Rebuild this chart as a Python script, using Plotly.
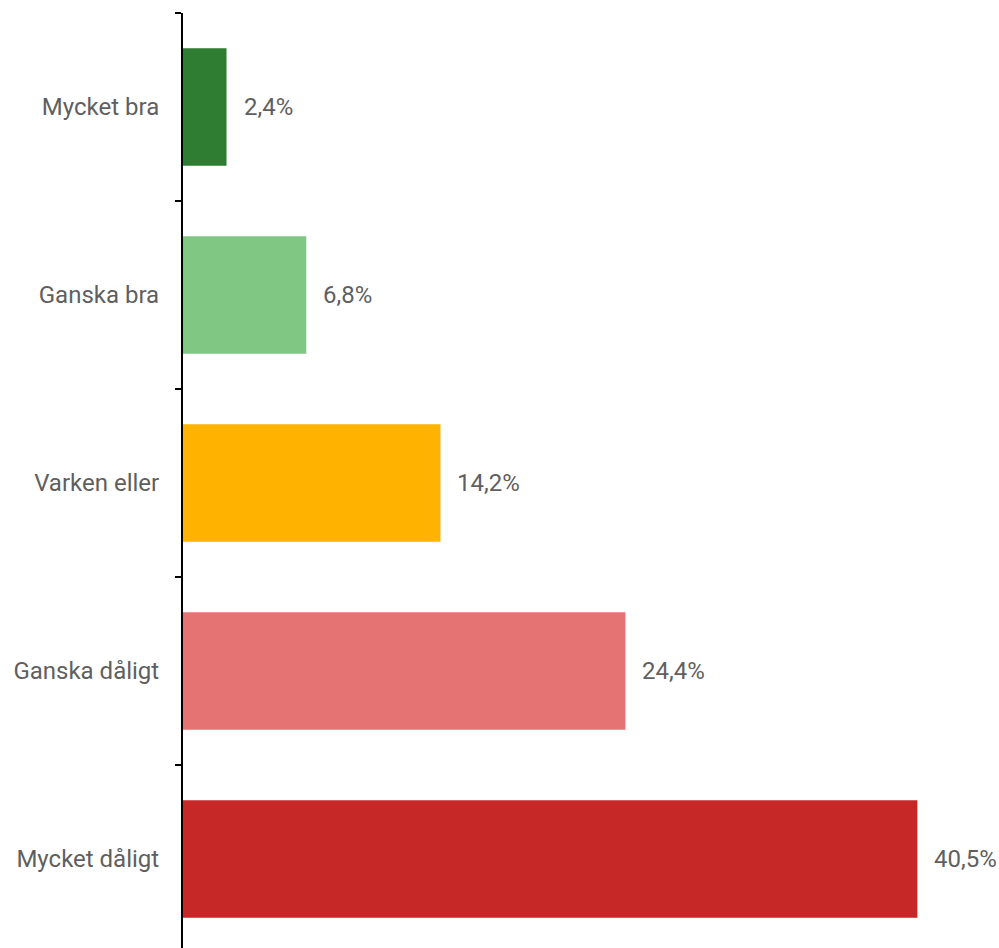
import plotly.graph_objects as go

categories = ["Mycket bra", "Ganska bra", "Varken eller", "Ganska dåligt", "Mycket dåligt"]
values = [2.4, 6.8, 14.2, 24.4, 40.5]
labels = ["2,4%", "6,8%", "14,2%", "24,4%", "40,5%"]
colors = ["#2E7D32", "#81C784", "#FFB300", "#E57373", "#C62828"]

font_color = "#5f5f5f"

fig = go.Figure(
    go.Bar(
        x=values,
        y=categories,
        orientation="h",
        marker=dict(color=colors, line=dict(width=0)),
        width=0.625,
        hoverinfo="none",
    )
)

# value labels to the right of each bar
for cat, val, lab in zip(categories, values, labels):
    fig.add_annotation(
        x=val, y=cat, text=lab, showarrow=False,
        xanchor="left", yanchor="middle", xshift=15,
        font=dict(family="Roboto", size=24, color=font_color),
    )

fig.update_layout(
    width=999,
    height=948,
    margin=dict(l=183, r=0, t=13, b=0),
    plot_bgcolor="white",
    paper_bgcolor="white",
    showlegend=False,
    font=dict(family="Roboto", size=24, color=font_color),
    xaxis=dict(
        range=[0, 45], visible=False, showgrid=False, zeroline=False,
    ),
    yaxis=dict(
        categoryorder="array",
        categoryarray=categories,
        range=[4.4734, -0.5],  # reversed so first category is on top
        autorange=False,
        showline=True,
        linecolor="black",
        linewidth=2,
        ticks="outside",
        tickson="boundaries",
        ticklen=6,
        tickwidth=2,
        tickcolor="black",
        ticklabelstandoff=17,
        showgrid=False,
        zeroline=False,
    ),
)

# drop the default body margin so the figure fills the window
fig.write_html(
    "out.html",
    config={"displayModeBar": False},
    post_script="document.body.style.margin='0';document.body.style.overflow='hidden';",
)
